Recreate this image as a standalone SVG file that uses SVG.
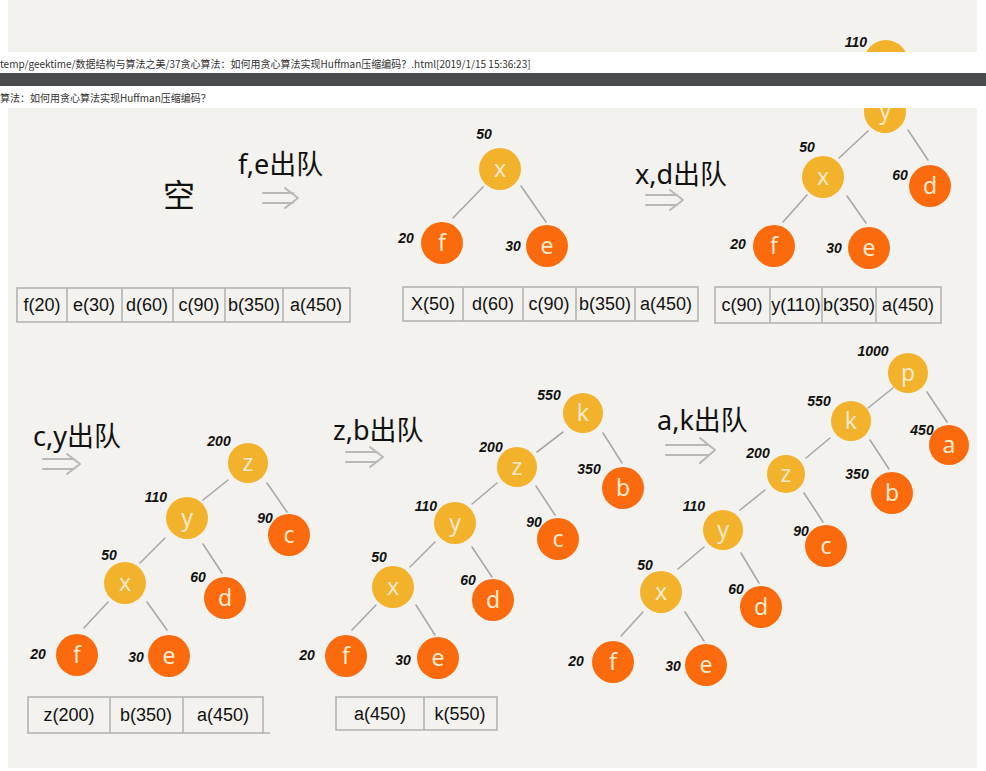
<svg xmlns="http://www.w3.org/2000/svg" width="986" height="771" viewBox="0 0 986 771">
<defs>
<style>
.panel{fill:#f4f2ee}
.n1{fill:#f2b22c}
.n2{fill:#fb6b0e}
.lt{font-family:"Noto Sans",sans-serif;font-size:23px;fill:#fde9cc;text-anchor:middle;dominant-baseline:central}
.wt{font-family:"Liberation Sans",sans-serif;font-size:14px;font-weight:bold;font-style:italic;fill:#111;text-anchor:middle}
.edge{stroke:#a8a8a8;stroke-width:1.6;fill:none;stroke-linecap:round}
.tb{fill:none;stroke:#b3b3b3;stroke-width:1.6}
.tt{font-family:"Liberation Sans",sans-serif;font-size:18px;fill:#111;text-anchor:middle}
.hd{font-family:"Noto Sans","Noto Sans CJK SC",sans-serif;font-size:27px;fill:#111}
.arr{fill:none;stroke:#b8b8b8;stroke-width:2;stroke-linecap:round;stroke-linejoin:round}
.cap{font-family:"Noto Sans CJK SC","Noto Sans",sans-serif;font-size:10px;fill:#333}
</style>
<clipPath id="topclip"><rect x="8" y="0" width="969" height="52"/></clipPath>
<clipPath id="mainclip"><rect x="8" y="108" width="969" height="660"/></clipPath>
</defs>
<rect x="0" y="0" width="986" height="771" fill="#ffffff"/>
<rect class="panel" x="8" y="0" width="969" height="52"/>
<rect x="0" y="73" width="986" height="13" fill="#4a4d50"/>
<text class="cap" x="0" y="68">temp/geektime/数据结构与算法之美/37贪心算法：如何用贪心算法实现Huffman压缩编码？.html[2019/1/15 15:36:23]</text>
<text class="cap" x="0" y="102">算法：如何用贪心算法实现Huffman压缩编码？</text>
<rect class="panel" x="8" y="108" width="969" height="660"/>

<g id="top-fragment" clip-path="url(#topclip)">
<circle class="n1" cx="886" cy="62" r="22"/>
<text class="wt" x="856" y="47">110</text>
</g>

<g id="connectors">
<line class="edge" x1="483" y1="187" x2="453" y2="218"/>
<line class="edge" x1="521" y1="186" x2="546" y2="222"/>
<line class="edge" x1="868" y1="131" x2="839" y2="158"/>
<line class="edge" x1="908" y1="130" x2="928" y2="160"/>
<line class="edge" x1="807" y1="195" x2="783" y2="222"/>
<line class="edge" x1="847" y1="196" x2="866" y2="223"/>
<line class="edge" x1="228" y1="480" x2="203" y2="500"/>
<line class="edge" x1="267" y1="483" x2="287" y2="512"/>
<line class="edge" x1="165" y1="538" x2="140" y2="563"/>
<line class="edge" x1="203" y1="544" x2="222" y2="573"/>
<line class="edge" x1="108" y1="602" x2="84" y2="628"/>
<line class="edge" x1="147" y1="602" x2="167" y2="630"/>
<line class="edge" x1="563" y1="432" x2="537" y2="452"/>
<line class="edge" x1="603" y1="433" x2="622" y2="463"/>
<line class="edge" x1="497" y1="483" x2="472" y2="504"/>
<line class="edge" x1="536" y1="486" x2="555" y2="515"/>
<line class="edge" x1="435" y1="542" x2="410" y2="567"/>
<line class="edge" x1="472" y1="547" x2="492" y2="577"/>
<line class="edge" x1="376" y1="605" x2="352" y2="630"/>
<line class="edge" x1="416" y1="605" x2="435" y2="635"/>
<line class="edge" x1="893" y1="388" x2="868" y2="408"/>
<line class="edge" x1="927" y1="392" x2="947" y2="422"/>
<line class="edge" x1="830" y1="438" x2="806" y2="458"/>
<line class="edge" x1="870" y1="440" x2="889" y2="469"/>
<line class="edge" x1="765" y1="490" x2="740" y2="510"/>
<line class="edge" x1="804" y1="493" x2="823" y2="522"/>
<line class="edge" x1="704" y1="547" x2="678" y2="569"/>
<line class="edge" x1="741" y1="553" x2="759" y2="583"/>
<line class="edge" x1="643" y1="612" x2="621" y2="636"/>
<line class="edge" x1="685" y1="612" x2="704" y2="641"/>
<path class="arr" d="M263 193 H293 M263 203 H293 M285 188 L298 198 L285 208"/>
<path class="arr" d="M646 195 H677 M646 205 H677 M670 190 L683 200 L670 210"/>
<path class="arr" d="M43 459 H74 M43 469 H74 M67 454 L80 464 L67 474"/>
<path class="arr" d="M346 452 H377 M346 462 H377 M370 447 L383 457 L370 467"/>
<path class="arr" d="M666 445 H708 M666 455 H708 M700 438 L715 450 L700 463"/>
</g>

<g id="headers">
<text class="hd" x="163" y="207" style="font-size:32px">空</text>
<text class="hd" x="238" y="174">f,e出队</text>
<text class="hd" x="635" y="184">x,d出队</text>
<text class="hd" x="33" y="446">c,y出队</text>
<text class="hd" x="333" y="440">z,b出队</text>
<text class="hd" x="657" y="430">a,k出队</text>
</g>

<g id="tree1">
<g id="t1-x"><circle class="n1" cx="500" cy="169" r="21"/><text class="lt" x="500" y="168">x</text><text class="wt" x="484" y="139">50</text></g>
<g id="t1-f"><circle class="n2" cx="442" cy="243" r="21"/><text class="lt" x="442" y="242">f</text><text class="wt" x="406" y="243">20</text></g>
<g id="t1-e"><circle class="n2" cx="547" cy="246" r="21"/><text class="lt" x="547" y="245">e</text><text class="wt" x="513" y="251">30</text></g>
</g>

<g id="tree2">
<g id="t2-y" clip-path="url(#mainclip)"><circle class="n1" cx="885" cy="112" r="21"/><text class="lt" x="885" y="110">y</text></g>
<g id="t2-x"><circle class="n1" cx="823" cy="177" r="21"/><text class="lt" x="823" y="176">x</text><text class="wt" x="807" y="152">50</text></g>
<g id="t2-d"><circle class="n2" cx="930" cy="186" r="21"/><text class="lt" x="930" y="185">d</text><text class="wt" x="900" y="180">60</text></g>
<g id="t2-f"><circle class="n2" cx="774" cy="246" r="21"/><text class="lt" x="774" y="245">f</text><text class="wt" x="738" y="249">20</text></g>
<g id="t2-e"><circle class="n2" cx="869" cy="248" r="21"/><text class="lt" x="869" y="247">e</text><text class="wt" x="834" y="253">30</text></g>
</g>

<g id="tree3">
<g id="t3-z"><circle class="n1" cx="248" cy="463" r="20"/><text class="lt" x="248" y="462">z</text><text class="wt" x="219" y="446">200</text></g>
<g id="t3-y"><circle class="n1" cx="187" cy="518" r="21"/><text class="lt" x="187" y="517">y</text><text class="wt" x="156" y="502">110</text></g>
<g id="t3-c"><circle class="n2" cx="289" cy="535" r="21"/><text class="lt" x="289" y="534">c</text><text class="wt" x="265" y="523">90</text></g>
<g id="t3-x"><circle class="n1" cx="125" cy="583" r="21"/><text class="lt" x="125" y="582">x</text><text class="wt" x="109" y="560">50</text></g>
<g id="t3-d"><circle class="n2" cx="225" cy="598" r="21"/><text class="lt" x="225" y="597">d</text><text class="wt" x="198" y="582">60</text></g>
<g id="t3-f"><circle class="n2" cx="77" cy="655" r="21"/><text class="lt" x="77" y="654">f</text><text class="wt" x="38" y="659">20</text></g>
<g id="t3-e"><circle class="n2" cx="169" cy="656" r="21"/><text class="lt" x="169" y="655">e</text><text class="wt" x="136" y="662">30</text></g>
</g>

<g id="tree4">
<g id="t4-k"><circle class="n1" cx="583" cy="413" r="20"/><text class="lt" x="583" y="412">k</text><text class="wt" x="549" y="400">550</text></g>
<g id="t4-z"><circle class="n1" cx="517" cy="467" r="20"/><text class="lt" x="517" y="466">z</text><text class="wt" x="491" y="452">200</text></g>
<g id="t4-b"><circle class="n2" cx="623" cy="488" r="21"/><text class="lt" x="623" y="487">b</text><text class="wt" x="589" y="474">350</text></g>
<g id="t4-y"><circle class="n1" cx="455" cy="523" r="21"/><text class="lt" x="455" y="522">y</text><text class="wt" x="426" y="511">110</text></g>
<g id="t4-c"><circle class="n2" cx="558" cy="539" r="21"/><text class="lt" x="558" y="538">c</text><text class="wt" x="534" y="527">90</text></g>
<g id="t4-x"><circle class="n1" cx="393" cy="587" r="21"/><text class="lt" x="393" y="586">x</text><text class="wt" x="379" y="562">50</text></g>
<g id="t4-d"><circle class="n2" cx="493" cy="600" r="21"/><text class="lt" x="493" y="599">d</text><text class="wt" x="468" y="585">60</text></g>
<g id="t4-f"><circle class="n2" cx="346" cy="656" r="21"/><text class="lt" x="346" y="655">f</text><text class="wt" x="307" y="660">20</text></g>
<g id="t4-e"><circle class="n2" cx="438" cy="658" r="21"/><text class="lt" x="438" y="657">e</text><text class="wt" x="403" y="665">30</text></g>
</g>

<g id="tree5">
<g id="t5-p"><circle class="n1" cx="908" cy="373" r="20"/><text class="lt" x="908" y="372">p</text><text class="wt" x="873" y="356">1000</text></g>
<g id="t5-k"><circle class="n1" cx="851" cy="421" r="20"/><text class="lt" x="851" y="420">k</text><text class="wt" x="819" y="406">550</text></g>
<g id="t5-a"><circle class="n2" cx="949" cy="445" r="20"/><text class="lt" x="949" y="444">a</text><text class="wt" x="922" y="435">450</text></g>
<g id="t5-z"><circle class="n1" cx="786" cy="474" r="19"/><text class="lt" x="786" y="473">z</text><text class="wt" x="758" y="458">200</text></g>
<g id="t5-b"><circle class="n2" cx="892" cy="493" r="21"/><text class="lt" x="892" y="492">b</text><text class="wt" x="857" y="479">350</text></g>
<g id="t5-y"><circle class="n1" cx="723" cy="530" r="20"/><text class="lt" x="723" y="529">y</text><text class="wt" x="694" y="511">110</text></g>
<g id="t5-c"><circle class="n2" cx="826" cy="546" r="21"/><text class="lt" x="826" y="545">c</text><text class="wt" x="801" y="536">90</text></g>
<g id="t5-x"><circle class="n1" cx="661" cy="592" r="21"/><text class="lt" x="661" y="591">x</text><text class="wt" x="645" y="570">50</text></g>
<g id="t5-d"><circle class="n2" cx="761" cy="607" r="21"/><text class="lt" x="761" y="606">d</text><text class="wt" x="736" y="594">60</text></g>
<g id="t5-f"><circle class="n2" cx="613" cy="662" r="21"/><text class="lt" x="613" y="661">f</text><text class="wt" x="576" y="666">20</text></g>
<g id="t5-e"><circle class="n2" cx="706" cy="665" r="21"/><text class="lt" x="706" y="664">e</text><text class="wt" x="673" y="671">30</text></g>
</g>

<g id="queue1">
<rect class="tb" x="17" y="288" width="333" height="34"/>
<path class="tb" d="M67 288V322M122 288V322M173 288V322M225 288V322M283 288V322"/>
<text class="tt" x="42" y="311">f(20)</text><text class="tt" x="94" y="311">e(30)</text><text class="tt" x="147" y="311">d(60)</text><text class="tt" x="199" y="311">c(90)</text><text class="tt" x="254" y="311">b(350)</text><text class="tt" x="316" y="311">a(450)</text>
</g>
<g id="queue2">
<rect class="tb" x="403" y="287" width="295" height="34"/>
<path class="tb" d="M463 287V321M523 287V321M576 287V321M635 287V321"/>
<text class="tt" x="433" y="310">X(50)</text><text class="tt" x="493" y="310">d(60)</text><text class="tt" x="549" y="310">c(90)</text><text class="tt" x="605" y="310">b(350)</text><text class="tt" x="666" y="310">a(450)</text>
</g>
<g id="queue3">
<rect class="tb" x="715" y="287" width="226" height="36"/>
<path class="tb" d="M770 287V323M822 287V323M876 287V323"/>
<text class="tt" x="742" y="311">c(90)</text><text class="tt" x="796" y="311">y(110)</text><text class="tt" x="849" y="311">b(350)</text><text class="tt" x="908" y="311">a(450)</text>
</g>
<g id="queue4">
<rect class="tb" x="28" y="697" width="235" height="36"/>
<path class="tb" d="M110 697V733M183 697V733M263 733H270"/>
<text class="tt" x="69" y="721">z(200)</text><text class="tt" x="146" y="721">b(350)</text><text class="tt" x="223" y="721">a(450)</text>
</g>
<g id="queue5">
<rect class="tb" x="336" y="697" width="161" height="33"/>
<path class="tb" d="M424 697V730"/>
<text class="tt" x="380" y="720">a(450)</text><text class="tt" x="460" y="720">k(550)</text>
</g>
</svg>
